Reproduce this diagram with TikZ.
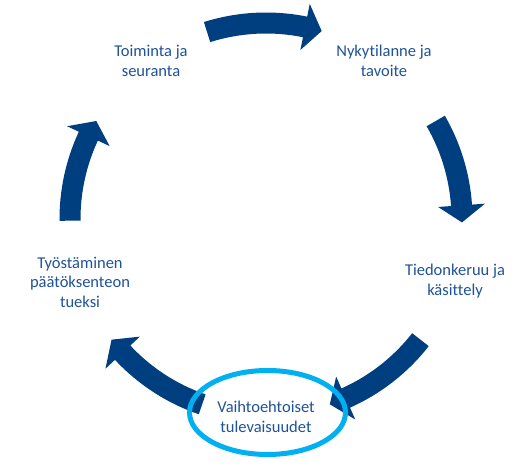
\documentclass[tikz,border=0pt]{standalone}
\usepackage{fontspec}
\setmainfont{Carlito}[Ligatures=NoCommon]
\definecolor{arrowblue}{HTML}{003F7F}
\definecolor{textblue}{HTML}{1F5397}
\definecolor{ringblue}{HTML}{00B0F0}
\newcommand\circarrow[2]{%
  \fill[arrowblue, shift={(C)}] (#1:206.5) arc[start angle=#1, end angle={#2+5}, radius=206.5]
    -- ({#2+5}:219.5) -- (#2:196) -- ({#2+5}:172.5) -- ({#2+5}:185.5)
    arc[start angle={#2+5}, end angle=#1, radius=185.5] -- cycle;}
\begin{document}
\begin{tikzpicture}[x=1pt,y=1pt,
  lbl/.style={font=\fontsize{16.5}{19.5}\selectfont, text=textblue, align=center, inner sep=0pt}]
\useasboundingbox (0,0) rectangle (528,468);
\fill[white] (0,0) rectangle (528,468);
\coordinate (C) at (266,249);
% arrows (clockwise), tail angle, tip angle
\circarrow{180.5}{150}
\circarrow{107.5}{73.5}
\circarrow{30}{-1}
\circarrow{-38}{-71}
\circarrow{-109}{-142}
% highlight ring
\draw[ringblue, line width=5pt] (267.5,55.5) ellipse[x radius=78, y radius=42];
% labels
\node[lbl] (t1) at (151,407) {Toiminta ja\\seuranta};
\node[lbl] (t2) at (384,407) {Nykytilanne ja\\tavoite};
\node[lbl] (t3) at (455,187) {Tiedonkeruu ja\\käsittely};
\node[lbl] (t4) at (266,51) {Vaihtoehtoiset\\tulevaisuudet};
\node[lbl] (t5) at (80,186) {Työstäminen\\päätöksenteon\\tueksi};
\end{tikzpicture}
\end{document}
